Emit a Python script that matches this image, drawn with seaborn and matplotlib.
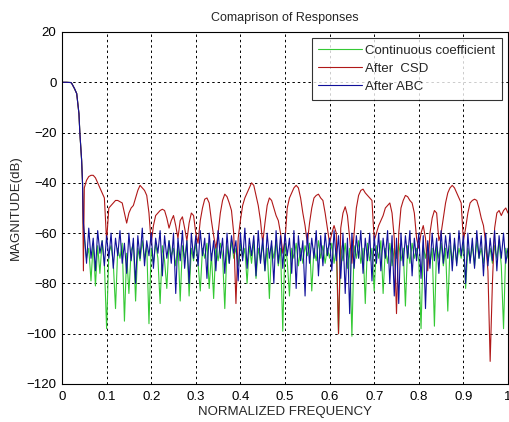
import numpy as np
import pandas as pd
import matplotlib
matplotlib.use("Agg")
import matplotlib.pyplot as plt
import seaborn as sns

# ---- data ----
pass_freq = [0.0, 0.01, 0.02, 0.022, 0.028, 0.033, 0.038, 0.040, 0.044, 0.046]
pass_mag = [0.0, 0.0, -0.1, -0.5, -2.5, -4.5, -12.5, -20.0, -31.0, -40.0]

red_edge_freq = [0.048]
red_edge_mag = [-75.0]
abc_edge_freq = [0.048]
abc_edge_mag = [-56.0]
cont_edge_freq = [0.048]
cont_edge_mag = [-58.0]

stop_freq = np.round(np.arange(0.05, 1.0001, 0.005), 3)

csd_mag = [
    -42, -39, -37.5, -37, -37, -38, -40, -42, -44, -46,
    -63, -50, -49, -48, -47, -47, -47.5, -48, -52, -56,
    -52, -50, -49, -46, -43, -41, -42, -43, -45, -52,
    -64, -57, -53, -52, -51, -50.5, -51, -54, -58, -55,
    -53, -57, -62, -55, -53.5, -58, -63, -56, -52, -53,
    -60, -64, -55, -50, -46.5, -46, -48, -55, -61, -66,
    -60, -52, -47, -44.5, -45.5, -48, -51, -60, -88, -62,
    -55, -49, -46, -44, -42, -40, -41, -45, -49, -55,
    -64, -56, -49, -46, -47, -50, -53, -55, -60, -68,
    -63, -50, -46, -44, -42, -41, -42, -46, -52, -57,
    -64, -56, -50, -46, -45, -44.5, -46, -47, -52, -58,
    -64, -60, -57, -60, -100, -58, -52, -49.5, -53, -62,
    -72, -60, -50, -45, -43, -42.5, -44, -45, -46, -47,
    -63, -60, -57, -55, -53, -50, -49, -48, -52, -62,
    -92, -60, -50, -47, -45, -45.5, -47, -48, -52, -62,
    -66, -60, -57, -62, -75, -60, -54, -51, -52, -63,
    -60, -54, -48, -44, -42, -41, -42, -44, -46, -48,
    -63, -58, -52, -48, -47, -46.5, -47, -50, -54, -57,
    -64, -75, -111, -80, -58, -52, -51, -53, -51, -50,
    -52,
]

abc_mag = [
    -60, -72, -58, -70, -62, -75, -59, -68, -63, -73,
    -61, -70, -60, -74, -62, -69, -59, -72, -64, -76,
    -60, -71, -62, -80, -61, -70, -58, -73, -63, -69,
    -60, -74, -62, -68, -59, -77, -61, -70, -63, -72,
    -60, -84, -62, -71, -59, -74, -63, -80, -60, -70,
    -61, -73, -59, -69, -62, -78, -60, -71, -63, -75,
    -59, -70, -62, -76, -60, -72, -61, -68, -63, -79,
    -60, -71, -58, -74, -62, -69, -61, -77, -59, -72,
    -62, -75, -60, -70, -63, -80, -59, -72, -61, -74,
    -60, -69, -62, -76, -59, -82, -61, -71, -63, -85,
    -60, -72, -62, -70, -59, -77, -61, -73, -60, -69,
    -62, -75, -59, -71, -61, -78, -60, -84, -62, -92,
    -60, -74, -61, -70, -59, -76, -62, -71, -60, -79,
    -61, -72, -60, -75, -62, -70, -59, -80, -61, -85,
    -62, -88, -60, -73, -61, -70, -59, -77, -62, -71,
    -60, -78, -61, -90, -63, -74, -60, -71, -62, -76,
    -59, -72, -61, -70, -60, -75, -62, -73, -59, -69,
    -61, -80, -60, -72, -62, -74, -59, -70, -61, -77,
    -60, -73, -62, -71, -59, -75, -61, -70, -60, -72,
    -66,
]

cont_mag = [
    -62, -70, -66, -79, -64, -81, -65, -76, -63, -72,
    -98, -68, -65, -72, -90, -66, -70, -64, -95, -68,
    -84, -67, -64, -87, -66, -71, -63, -70, -65, -96,
    -66, -72, -64, -70, -88, -65, -71, -82, -63, -69,
    -66, -73, -64, -87, -65, -70, -63, -85, -66, -71,
    -64, -72, -83, -66, -70, -64, -82, -68, -86, -65,
    -71, -64, -69, -90, -65, -72, -63, -70, -66, -73,
    -64, -70, -66, -80, -65, -72, -63, -78, -66, -71,
    -64, -75, -66, -86, -65, -70, -63, -73, -66, -99,
    -64, -71, -85, -66, -70, -64, -73, -66, -72, -65,
    -69, -64, -83, -66, -71, -63, -70, -65, -72, -66,
    -70, -64, -72, -66, -100, -65, -71, -64, -74, -66,
    -101, -65, -70, -63, -72, -66, -88, -64, -71, -66,
    -83, -65, -70, -63, -84, -66, -72, -64, -73, -66,
    -70, -64, -71, -66, -89, -65, -72, -64, -70, -66,
    -71, -98, -65, -70, -64, -72, -66, -97, -65, -70,
    -64, -73, -66, -91, -65, -71, -64, -72, -66, -70,
    -64, -82, -66, -71, -65, -73, -63, -70, -66, -72,
    -64, -71, -66, -72, -65, -70, -63, -73, -98, -66,
    -70,
]

labels = ["Continuous coefficient", "After  CSD", "After ABC"]
colors = ["#35c935", "#b01818", "#10109a"]

x_ticks = [0, 0.1, 0.2, 0.3, 0.4, 0.5, 0.6, 0.7, 0.8, 0.9, 1]
x_tick_labels = ["0", "0.1", "0.2", "0.3", "0.4", "0.5", "0.6", "0.7", "0.8", "0.9", "1"]
y_ticks = [-120, -100, -80, -60, -40, -20, 0, 20]

# ---- build series ----
def series(edge_f, edge_m, mag):
    f = list(pass_freq) + list(edge_f) + list(stop_freq)
    m = list(pass_mag) + list(edge_m) + list(mag)
    return pd.DataFrame({"freq": f, "mag": m})

dfs = [
    series(cont_edge_freq, cont_edge_mag, cont_mag),
    series(red_edge_freq, red_edge_mag, csd_mag),
    series(abc_edge_freq, abc_edge_mag, abc_mag),
]

sns.set_style("white")
plt.rcParams["font.family"] = ["Liberation Sans", "DejaVu Sans"]

fig = plt.figure(figsize=(5.09, 4.22), dpi=100)
ax = fig.add_axes([62 / 509, 1 - 384 / 422, 446 / 509, 352 / 422])

for df, lab, col in zip(dfs, labels, colors):
    sns.lineplot(data=df, x="freq", y="mag", ax=ax, color=col, linewidth=0.8,
                 label=lab, estimator=None, sort=False)

ax.set_xlim(0, 1)
ax.set_ylim(-120, 20)
ax.set_xticks(x_ticks)
ax.set_xticklabels(x_tick_labels)
ax.set_yticks(y_ticks)
ax.tick_params(direction="in", length=4, labelsize=9.5, colors="black", width=0.6)
ax.tick_params(axis="x", pad=5)
ax.tick_params(axis="y", pad=4)
ax.grid(True, color="black", linestyle=(0, (2.5, 3)), linewidth=0.7)
for s in ax.spines.values():
    s.set_color("black")
    s.set_linewidth(0.8)

ax.set_title("Comaprison of Responses", fontsize=9, pad=8)
ax.set_xlabel("NORMALIZED FREQUENCY", fontsize=9.5, labelpad=2)
ax.set_ylabel("MAGNITUDE(dB)", fontsize=9.5, labelpad=3)

leg = ax.legend(loc="upper right", fontsize=9.5, handlelength=3.3, frameon=True,
                fancybox=False, borderaxespad=0.45, labelspacing=0.45,
                borderpad=0.5, handletextpad=0.25)
leg.get_frame().set_edgecolor("black")
leg.get_frame().set_linewidth(0.8)

fig.savefig("out.png", dpi=100)
